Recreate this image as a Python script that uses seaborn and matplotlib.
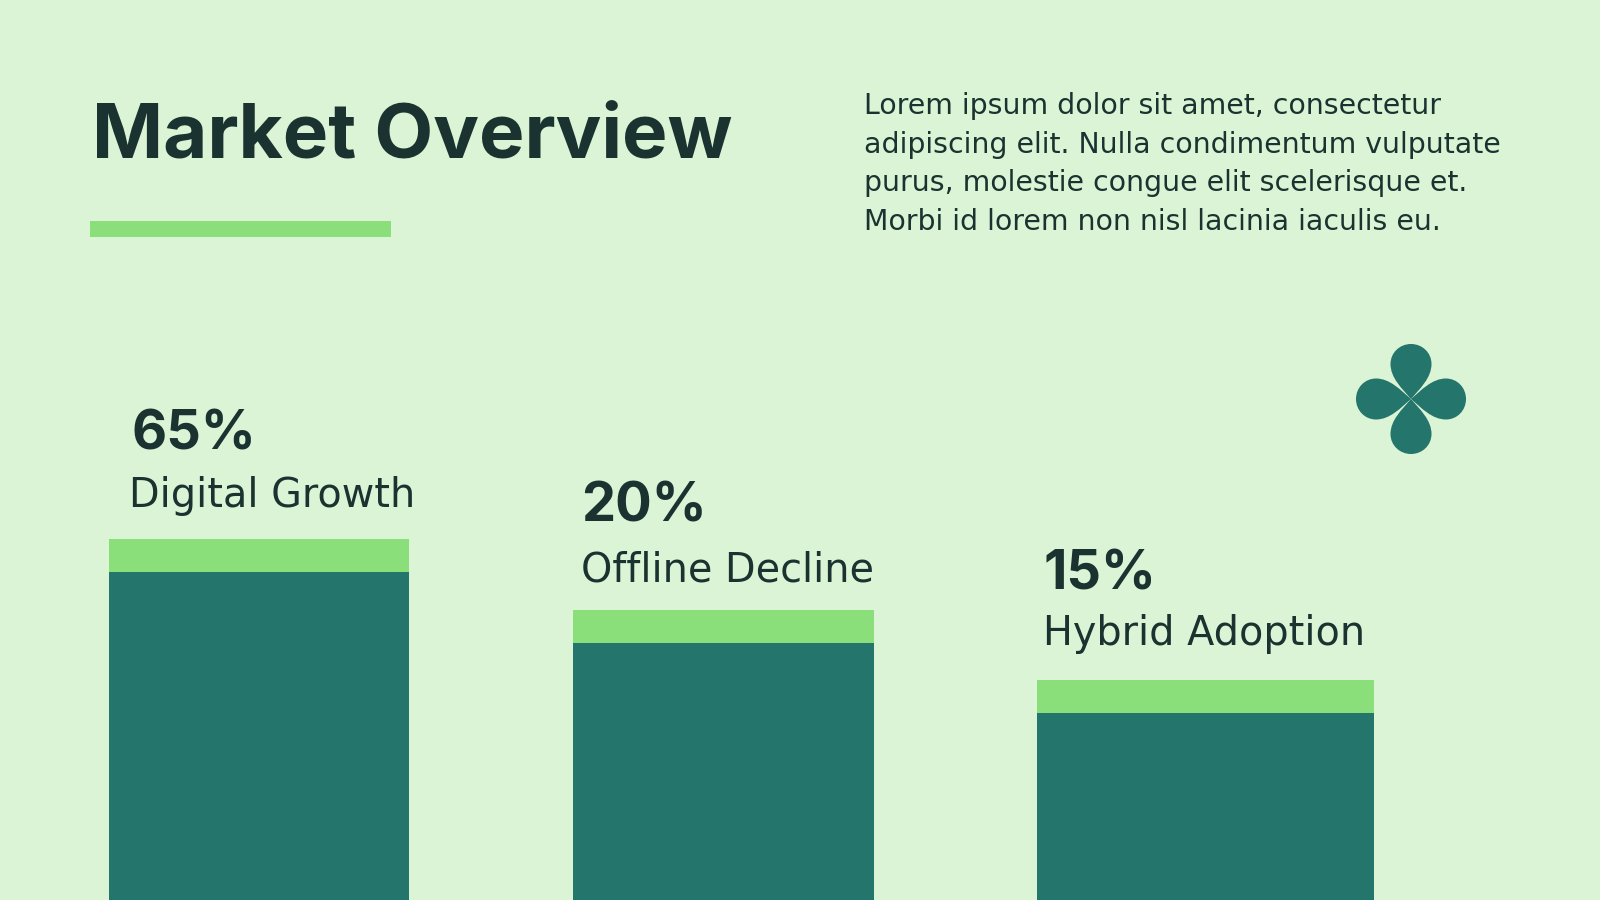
import matplotlib.pyplot as plt
from matplotlib.patches import PathPatch, Rectangle
from matplotlib.path import Path
from matplotlib.transforms import Affine2D
import seaborn as sns

# --- Dados ---
categorias = ['Digital Growth', 'Offline Decline', 'Hybrid Adoption']
percentuais = ['65%', '20%', '15%']
alturas_totais = [361, 290, 220]
alturas_base = [328, 257, 187]

titulo = 'Market Overview'
paragrafo = [
    'Lorem ipsum dolor sit amet, consectetur',
    'adipiscing elit. Nulla condimentum vulputate',
    'purus, molestie congue elit scelerisque et.',
    'Morbi id lorem non nisl lacinia iaculis eu.',
]

# --- Cores ---
FUNDO = '#DBF4D6'
VERDE = '#8ADF7A'
TEAL = '#24756B'
TEXTO = '#1A3330'

sns.set_theme(style='white')
plt.rcParams['font.family'] = ['Inter', 'DejaVu Sans']

fig = plt.figure(figsize=(16, 9), dpi=100, facecolor=FUNDO)
ax = fig.add_axes([0, 0, 1, 1], facecolor=FUNDO)

centros = [258.75, 723.25, 1205.25]
larguras = [300.5, 300.5, 337.5]

# barras: verde atras, teal na frente
sns.barplot(x=centros, y=alturas_totais, native_scale=True, color=VERDE,
            saturation=1, width=0.6, linewidth=0, ax=ax)
sns.barplot(x=centros, y=alturas_base, native_scale=True, color=TEAL,
            saturation=1, width=0.6, linewidth=0, ax=ax)
for i, barra in enumerate(ax.patches):
    j = i % 3
    barra.set_x(centros[j] - larguras[j] / 2)
    barra.set_width(larguras[j])

ax.set_xlim(0, 1600)
ax.set_ylim(0, 900)
ax.set_axis_off()

# titulo e linha
ax.text(92, 900 - 157, titulo, fontsize=55, fontweight='bold', color=TEXTO, va='baseline')
ax.add_patch(Rectangle((90, 900 - 237), 300.5, 16, color=VERDE, lw=0))

# paragrafo
for k, linha in enumerate(paragrafo):
    ax.text(864, 900 - (114.5 + 38.4 * k), linha, fontsize=20.4, color=TEXTO, va='baseline',
            family='DejaVu Sans')

# rotulos das barras
pos_pct = [(131, 449.5), (581, 522), (1043, 589.5)]
pos_cat = [(129, 507.5), (581, 581), (1043, 644.5)]
for pct, cat, p, c in zip(percentuais, categorias, pos_pct, pos_cat):
    ax.text(p[0], 900 - p[1], pct, fontsize=39, fontweight='bold', color=TEXTO, va='baseline')
    ax.text(c[0], 900 - c[1], cat, fontsize=28.6, color=TEXTO, va='baseline', family='DejaVu Sans')

# trevo decorativo
petala = Path(
    [(0, 0), (-9, 10.5), (-20.5, 21), (-20.5, 35), (-20.5, 46.3), (-11.3, 55), (0, 55),
     (11.3, 55), (20.5, 46.3), (20.5, 35), (20.5, 21), (9, 10.5), (0, 0)],
    [Path.MOVETO] + [Path.CURVE4] * 12,
)
for ang in [0, 90, 180, 270]:
    tr = Affine2D().rotate_deg(ang).translate(1411, 900 - 399) + ax.transData
    ax.add_patch(PathPatch(petala, facecolor=TEAL, edgecolor='none', transform=tr))

fig.savefig('out.png', dpi=100, facecolor=FUNDO)
